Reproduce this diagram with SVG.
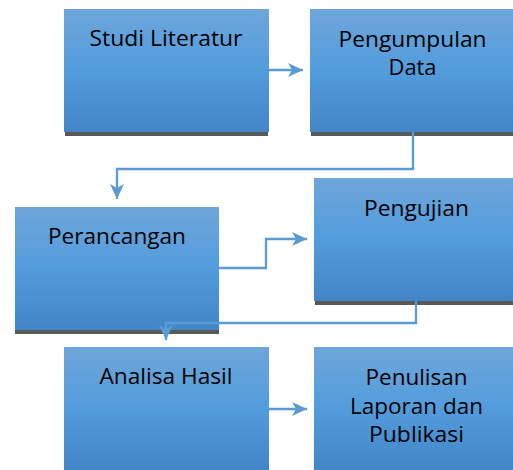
<svg xmlns="http://www.w3.org/2000/svg" width="513" height="470" viewBox="0 0 513 470">
<defs>
<linearGradient id="g" x1="0" y1="0" x2="0" y2="1">
<stop offset="0" stop-color="#6ea6da"/>
<stop offset="0.5" stop-color="#539cdc"/>
<stop offset="1" stop-color="#4285c6"/>
</linearGradient>
<marker id="ah" markerUnits="userSpaceOnUse" markerWidth="18" markerHeight="16" refX="15" refY="7" orient="auto" viewBox="0 0 18 14">
<path d="M0,0 L15,7 L0,14 L4,7 Z" fill="#5b9bd5"/>
</marker>
<style>
.shadow{fill:#595959}
.box{fill:url(#g)}
.t{font-family:"Open Sans","Noto Sans",sans-serif;font-size:22.5px;fill:#000;text-anchor:middle}
.c{fill:none;stroke:#5b9bd5;stroke-width:2.3}
</style>
</defs>
<g id="n1">
<rect class="shadow" x="65" y="13" width="203" height="123"/>
<rect class="box" x="64" y="9" width="205" height="123"/>
<text class="t" x="166" y="46" textLength="153" lengthAdjust="spacingAndGlyphs">Studi Literatur</text>
</g>
<g id="n2">
<rect class="shadow" x="311" y="13" width="202" height="123"/>
<rect class="box" x="310" y="9" width="203" height="123"/>
<text class="t" x="412.5" y="46.5" textLength="148" lengthAdjust="spacingAndGlyphs">Pengumpulan</text>
<text class="t" x="412.5" y="74.5" textLength="48" lengthAdjust="spacingAndGlyphs">Data</text>
</g>
<g id="n3">
<rect class="shadow" x="15" y="211" width="204" height="123"/>
<rect class="box" x="15" y="207" width="204" height="123"/>
<text class="t" x="117" y="244" textLength="138" lengthAdjust="spacingAndGlyphs">Perancangan</text>
</g>
<g id="n4">
<rect class="shadow" x="315" y="182" width="198" height="123"/>
<rect class="box" x="314" y="178" width="199" height="123"/>
<text class="t" x="416.5" y="216" textLength="105" lengthAdjust="spacingAndGlyphs">Pengujian</text>
</g>
<g id="n5">
<rect class="box" x="64" y="347" width="205" height="123"/>
<text class="t" x="166" y="384" textLength="133" lengthAdjust="spacingAndGlyphs">Analisa Hasil</text>
</g>
<g id="n6">
<rect class="box" x="314" y="347" width="199" height="123"/>
<text class="t" x="416.5" y="385" textLength="102" lengthAdjust="spacingAndGlyphs">Penulisan</text>
<text class="t" x="416.5" y="414" textLength="133" lengthAdjust="spacingAndGlyphs">Laporan dan</text>
<text class="t" x="416.5" y="442" textLength="95" lengthAdjust="spacingAndGlyphs">Publikasi</text>
</g>
<g id="connectors">
<path class="c" d="M269,70 L303,70" marker-end="url(#ah)"/>
<path class="c" d="M413,132 L413,169 L117,169 L117,199" marker-end="url(#ah)"/>
<path class="c" d="M219,268 L266,268 L266,239 L307,239" marker-end="url(#ah)"/>
<path class="c" d="M416,301 L416,323 L166,323 L166,340" marker-end="url(#ah)"/>
<path class="c" d="M269,409 L307,409" marker-end="url(#ah)"/>
</g>
</svg>
